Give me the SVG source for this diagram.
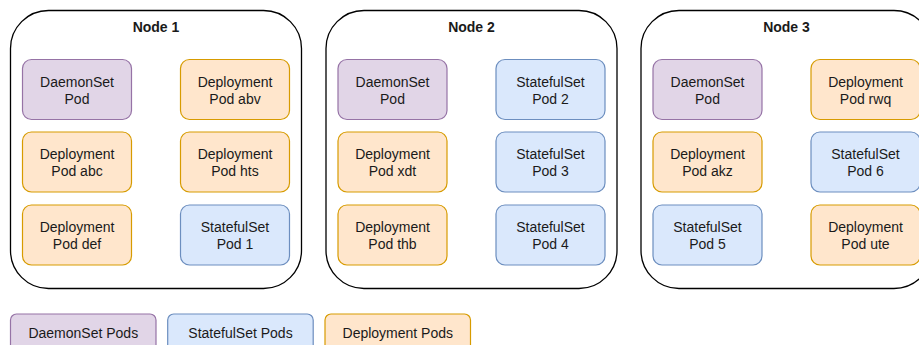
<svg xmlns="http://www.w3.org/2000/svg" width="919" height="345" viewBox="0 0 919 345">
  <style>
    text { font-family: "Liberation Sans", Arial, sans-serif; fill: #1a1a1a; text-anchor: middle; }
    .title { font-size: 14px; font-weight: bold; }
    .lbl { font-size: 14px; }
    .node { fill: #ffffff; stroke: #000000; stroke-width: 1.3; }
    .pod { stroke-width: 1.2; }
    .ds { fill: #e1d5e7; stroke: #9673a6; }
    .ss { fill: #dae8fc; stroke: #6c8ebf; }
    .dp { fill: #ffe6cc; stroke: #d79b00; }
  </style>
  <rect width="919" height="345" fill="#ffffff"/>

  <!-- Node 1 -->
  <g id="node1">
    <rect class="node" x="10.5" y="10.5" width="291" height="278" rx="38" ry="38"/>
    <text class="title" x="156" y="31.5">Node 1</text>
    <g id="n1-ds">
      <rect class="pod ds" x="22.5" y="59.5" width="109" height="60" rx="9"/>
      <text class="lbl" x="77" y="86.7">DaemonSet</text>
      <text class="lbl" x="77" y="103.5">Pod</text>
    </g>
    <g id="n1-abv">
      <rect class="pod dp" x="180.5" y="59.5" width="109" height="60" rx="9"/>
      <text class="lbl" x="235" y="86.7">Deployment</text>
      <text class="lbl" x="235" y="103.5">Pod abv</text>
    </g>
    <g id="n1-abc">
      <rect class="pod dp" x="22.5" y="132" width="109" height="60" rx="9"/>
      <text class="lbl" x="77" y="159.2">Deployment</text>
      <text class="lbl" x="77" y="176">Pod abc</text>
    </g>
    <g id="n1-hts">
      <rect class="pod dp" x="180.5" y="132" width="109" height="60" rx="9"/>
      <text class="lbl" x="235" y="159.2">Deployment</text>
      <text class="lbl" x="235" y="176">Pod hts</text>
    </g>
    <g id="n1-def">
      <rect class="pod dp" x="22.5" y="205" width="109" height="60" rx="9"/>
      <text class="lbl" x="77" y="232.2">Deployment</text>
      <text class="lbl" x="77" y="249">Pod def</text>
    </g>
    <g id="n1-ss1">
      <rect class="pod ss" x="180.5" y="205" width="109" height="60" rx="9"/>
      <text class="lbl" x="235" y="232.2">StatefulSet</text>
      <text class="lbl" x="235" y="249">Pod 1</text>
    </g>
  </g>

  <!-- Node 2 -->
  <g id="node2">
    <rect class="node" x="326" y="10.5" width="291" height="278" rx="38" ry="38"/>
    <text class="title" x="471.5" y="31.5">Node 2</text>
    <g id="n2-ds">
      <rect class="pod ds" x="338" y="59.5" width="109" height="60" rx="9"/>
      <text class="lbl" x="392.5" y="86.7">DaemonSet</text>
      <text class="lbl" x="392.5" y="103.5">Pod</text>
    </g>
    <g id="n2-ss2">
      <rect class="pod ss" x="496" y="59.5" width="109" height="60" rx="9"/>
      <text class="lbl" x="550.5" y="86.7">StatefulSet</text>
      <text class="lbl" x="550.5" y="103.5">Pod 2</text>
    </g>
    <g id="n2-xdt">
      <rect class="pod dp" x="338" y="132" width="109" height="60" rx="9"/>
      <text class="lbl" x="392.5" y="159.2">Deployment</text>
      <text class="lbl" x="392.5" y="176">Pod xdt</text>
    </g>
    <g id="n2-ss3">
      <rect class="pod ss" x="496" y="132" width="109" height="60" rx="9"/>
      <text class="lbl" x="550.5" y="159.2">StatefulSet</text>
      <text class="lbl" x="550.5" y="176">Pod 3</text>
    </g>
    <g id="n2-thb">
      <rect class="pod dp" x="338" y="205" width="109" height="60" rx="9"/>
      <text class="lbl" x="392.5" y="232.2">Deployment</text>
      <text class="lbl" x="392.5" y="249">Pod thb</text>
    </g>
    <g id="n2-ss4">
      <rect class="pod ss" x="496" y="205" width="109" height="60" rx="9"/>
      <text class="lbl" x="550.5" y="232.2">StatefulSet</text>
      <text class="lbl" x="550.5" y="249">Pod 4</text>
    </g>
  </g>

  <!-- Node 3 -->
  <g id="node3">
    <rect class="node" x="641" y="10.5" width="291" height="278" rx="38" ry="38"/>
    <text class="title" x="786.5" y="31.5">Node 3</text>
    <g id="n3-ds">
      <rect class="pod ds" x="653" y="59.5" width="109" height="60" rx="9"/>
      <text class="lbl" x="707.5" y="86.7">DaemonSet</text>
      <text class="lbl" x="707.5" y="103.5">Pod</text>
    </g>
    <g id="n3-rwq">
      <rect class="pod dp" x="811" y="59.5" width="109" height="60" rx="9"/>
      <text class="lbl" x="865.5" y="86.7">Deployment</text>
      <text class="lbl" x="865.5" y="103.5">Pod rwq</text>
    </g>
    <g id="n3-akz">
      <rect class="pod dp" x="653" y="132" width="109" height="60" rx="9"/>
      <text class="lbl" x="707.5" y="159.2">Deployment</text>
      <text class="lbl" x="707.5" y="176">Pod akz</text>
    </g>
    <g id="n3-ss6">
      <rect class="pod ss" x="811" y="132" width="109" height="60" rx="9"/>
      <text class="lbl" x="865.5" y="159.2">StatefulSet</text>
      <text class="lbl" x="865.5" y="176">Pod 6</text>
    </g>
    <g id="n3-ss5">
      <rect class="pod ss" x="653" y="205" width="109" height="60" rx="9"/>
      <text class="lbl" x="707.5" y="232.2">StatefulSet</text>
      <text class="lbl" x="707.5" y="249">Pod 5</text>
    </g>
    <g id="n3-ute">
      <rect class="pod dp" x="811" y="205" width="109" height="60" rx="9"/>
      <text class="lbl" x="865.5" y="232.2">Deployment</text>
      <text class="lbl" x="865.5" y="249">Pod ute</text>
    </g>
  </g>

  <!-- Legend -->
  <g id="legend-ds">
    <rect class="pod ds" x="10.5" y="314" width="145.5" height="40" rx="6"/>
    <text class="lbl" x="83.3" y="337.5">DaemonSet Pods</text>
  </g>
  <g id="legend-ss">
    <rect class="pod ss" x="167.7" y="314" width="145.5" height="40" rx="6"/>
    <text class="lbl" x="240.5" y="337.5">StatefulSet Pods</text>
  </g>
  <g id="legend-dp">
    <rect class="pod dp" x="325" y="314" width="145.5" height="40" rx="6"/>
    <text class="lbl" x="397.8" y="337.5">Deployment Pods</text>
  </g>

  <!-- no connectors in this diagram -->
  <g id="connectors"/>
</svg>
